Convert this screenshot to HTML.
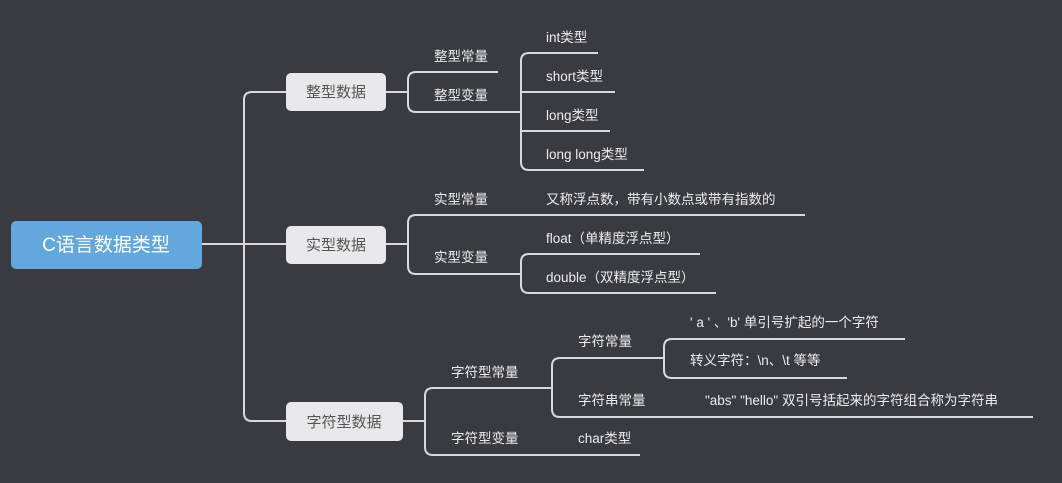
<!DOCTYPE html>
<html><head><meta charset="utf-8"><style>
html,body{margin:0;padding:0;background:#3a3b40;}
svg{display:block}
text{font-family:"Liberation Sans","Noto Sans CJK SC",sans-serif;}
.t{fill:#ececec;font-size:13.5px}
.b{fill:#555;font-size:15px}
</style></head><body>
<svg width="1062" height="483" viewBox="0 0 1062 483" xmlns="http://www.w3.org/2000/svg">
<rect width="1062" height="483" fill="#3a3b40"/>
<g fill="none" stroke="#d9d9d9" stroke-width="2">
<!-- root trunk -->
<path d="M202 244 H286"/>
<path d="M286 92 H252 Q244 92 244 100 V413 Q244 421 252 421 H286"/>
<!-- 整型 -->
<path d="M386 92 H408"/>
<path d="M498 72 H416 Q408 72 408 80 V104 Q408 112 416 112 H521"/>
<path d="M598 53 H529 Q521 53 521 61 V162 Q521 170 529 170 H644"/>
<path d="M521 92 H615 M521 131 H610"/>
<!-- 实型 -->
<path d="M386 244 H408"/>
<path d="M805 215 H416 Q408 215 408 223 V266 Q408 274 416 274 H521"/>
<path d="M700 254 H529 Q521 254 521 262 V285 Q521 293 529 293 H716"/>
<!-- 字符型 -->
<path d="M403 421 H425"/>
<path d="M552 388 H433 Q425 388 425 396 V447 Q425 455 433 455 H640"/>
<path d="M664 358 H560 Q552 358 552 366 V409 Q552 417 560 417 H1033"/>
<path d="M905 339 H672 Q664 339 664 347 V370 Q664 378 672 378 H847"/>
</g>
<!-- boxes -->
<rect x="11" y="221" width="191" height="48" rx="5" fill="#62a8dc"/>
<text x="106" y="251" text-anchor="middle" fill="#fff" font-size="19">C语言数据类型</text>
<rect x="286" y="73" width="100" height="38" rx="5" fill="#e8e8ea"/>
<text x="336" y="97" text-anchor="middle" class="b">整型数据</text>
<rect x="286" y="226" width="100" height="38" rx="5" fill="#e8e8ea"/>
<text x="336" y="250" text-anchor="middle" class="b">实型数据</text>
<rect x="286" y="402" width="117" height="39" rx="5" fill="#e8e8ea"/>
<text x="344" y="427" text-anchor="middle" class="b">字符型数据</text>
<!-- labels -->
<g class="t">
<text x="434" y="61">整型常量</text>
<text x="434" y="100">整型变量</text>
<text x="546" y="42">int类型</text>
<text x="546" y="81">short类型</text>
<text x="546" y="120">long类型</text>
<text x="546" y="159">long long类型</text>
<text x="434" y="204">实型常量</text>
<text x="434" y="262">实型变量</text>
<text x="546" y="204">又称浮点数，带有小数点或带有指数的</text>
<text x="546" y="243">float（单精度浮点型）</text>
<text x="546" y="282">double（双精度浮点型）</text>
<text x="451" y="377">字符型常量</text>
<text x="451" y="443">字符型变量</text>
<text x="578" y="346">字符常量</text>
<text x="578" y="405">字符串常量</text>
<text x="578" y="443">char类型</text>
<text x="690" y="327">' a ' 、'b' 单引号扩起的一个字符</text>
<text x="690" y="365">转义字符：\n、\t  等等</text>
<text x="705" y="405">"abs" "hello" 双引号括起来的字符组合称为字符串</text>
</g>
</svg>
</body></html>
